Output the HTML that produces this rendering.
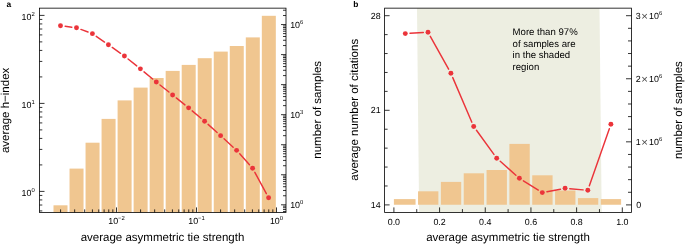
<!DOCTYPE html>
<html><head><meta charset="utf-8"><title>figure</title>
<style>html,body{margin:0;padding:0;background:#fff;}body{width:685px;height:245px;overflow:hidden;font-family:"Liberation Sans",sans-serif;}svg{display:block;will-change:transform;opacity:0.999}text{text-rendering:geometricPrecision}</style>
</head><body>
<svg width="685" height="245" viewBox="0 0 685 245">
<rect width="685" height="245" fill="#fff"/>
<rect x="53.50" y="205.30" width="14.0" height="7.10" fill="#f0c690"/>
<rect x="69.53" y="168.60" width="14.0" height="43.80" fill="#f0c690"/>
<rect x="85.55" y="142.70" width="14.0" height="69.70" fill="#f0c690"/>
<rect x="101.57" y="118.90" width="14.0" height="93.50" fill="#f0c690"/>
<rect x="117.60" y="100.40" width="14.0" height="112.00" fill="#f0c690"/>
<rect x="133.62" y="87.60" width="14.0" height="124.80" fill="#f0c690"/>
<rect x="149.65" y="78.00" width="14.0" height="134.40" fill="#f0c690"/>
<rect x="165.67" y="70.90" width="14.0" height="141.50" fill="#f0c690"/>
<rect x="181.70" y="64.90" width="14.0" height="147.50" fill="#f0c690"/>
<rect x="197.72" y="58.20" width="14.0" height="154.20" fill="#f0c690"/>
<rect x="213.75" y="51.60" width="14.0" height="160.80" fill="#f0c690"/>
<rect x="229.77" y="46.00" width="14.0" height="166.40" fill="#f0c690"/>
<rect x="245.80" y="37.40" width="14.0" height="175.00" fill="#f0c690"/>
<rect x="261.82" y="15.80" width="14.0" height="196.60" fill="#f0c690"/>
<path d="M65.16 26.33L71.84 27.17M80.91 29.39L87.99 32.01M96.26 36.33L104.54 42.07M112.24 47.46L120.56 53.34M128.07 58.99L136.73 65.91M144.02 71.85L152.68 79.05M159.99 84.97L168.91 92.03M176.26 97.90L184.94 104.90M192.20 110.87L201.00 118.23M208.09 124.39L217.11 132.51M224.06 138.83L233.14 147.17M239.73 153.85L249.47 164.75M254.84 172.38L266.36 193.62" fill="none" stroke="#eb343a" stroke-width="1.45" stroke-linecap="round"/>
<circle cx="60.50" cy="25.75" r="2.45" fill="#eb343a"/>
<circle cx="76.50" cy="27.75" r="2.45" fill="#eb343a"/>
<circle cx="92.40" cy="33.65" r="2.45" fill="#eb343a"/>
<circle cx="108.40" cy="44.75" r="2.45" fill="#eb343a"/>
<circle cx="124.40" cy="56.05" r="2.45" fill="#eb343a"/>
<circle cx="140.40" cy="68.85" r="2.45" fill="#eb343a"/>
<circle cx="156.30" cy="82.05" r="2.45" fill="#eb343a"/>
<circle cx="172.60" cy="94.95" r="2.45" fill="#eb343a"/>
<circle cx="188.60" cy="107.85" r="2.45" fill="#eb343a"/>
<circle cx="204.60" cy="121.25" r="2.45" fill="#eb343a"/>
<circle cx="220.60" cy="135.65" r="2.45" fill="#eb343a"/>
<circle cx="236.60" cy="150.35" r="2.45" fill="#eb343a"/>
<circle cx="252.60" cy="168.25" r="2.45" fill="#eb343a"/>
<circle cx="268.60" cy="197.75" r="2.45" fill="#eb343a"/>
<line x1="39.50" y1="210.92" x2="42.30" y2="210.92" stroke="#000" stroke-width="0.8"/>
<line x1="39.50" y1="205.03" x2="42.30" y2="205.03" stroke="#000" stroke-width="0.8"/>
<line x1="39.50" y1="199.93" x2="42.30" y2="199.93" stroke="#000" stroke-width="0.8"/>
<line x1="39.50" y1="195.43" x2="42.30" y2="195.43" stroke="#000" stroke-width="0.8"/>
<line x1="39.50" y1="191.40" x2="44.50" y2="191.40" stroke="#000" stroke-width="0.8"/>
<line x1="39.50" y1="164.91" x2="42.30" y2="164.91" stroke="#000" stroke-width="0.8"/>
<line x1="39.50" y1="149.41" x2="42.30" y2="149.41" stroke="#000" stroke-width="0.8"/>
<line x1="39.50" y1="138.42" x2="42.30" y2="138.42" stroke="#000" stroke-width="0.8"/>
<line x1="39.50" y1="129.89" x2="42.30" y2="129.89" stroke="#000" stroke-width="0.8"/>
<line x1="39.50" y1="122.92" x2="42.30" y2="122.92" stroke="#000" stroke-width="0.8"/>
<line x1="39.50" y1="117.03" x2="42.30" y2="117.03" stroke="#000" stroke-width="0.8"/>
<line x1="39.50" y1="111.93" x2="42.30" y2="111.93" stroke="#000" stroke-width="0.8"/>
<line x1="39.50" y1="107.43" x2="42.30" y2="107.43" stroke="#000" stroke-width="0.8"/>
<line x1="39.50" y1="103.40" x2="44.50" y2="103.40" stroke="#000" stroke-width="0.8"/>
<line x1="39.50" y1="76.91" x2="42.30" y2="76.91" stroke="#000" stroke-width="0.8"/>
<line x1="39.50" y1="61.41" x2="42.30" y2="61.41" stroke="#000" stroke-width="0.8"/>
<line x1="39.50" y1="50.42" x2="42.30" y2="50.42" stroke="#000" stroke-width="0.8"/>
<line x1="39.50" y1="41.89" x2="42.30" y2="41.89" stroke="#000" stroke-width="0.8"/>
<line x1="39.50" y1="34.92" x2="42.30" y2="34.92" stroke="#000" stroke-width="0.8"/>
<line x1="39.50" y1="29.03" x2="42.30" y2="29.03" stroke="#000" stroke-width="0.8"/>
<line x1="39.50" y1="23.93" x2="42.30" y2="23.93" stroke="#000" stroke-width="0.8"/>
<line x1="39.50" y1="19.43" x2="42.30" y2="19.43" stroke="#000" stroke-width="0.8"/>
<line x1="39.50" y1="15.40" x2="44.50" y2="15.40" stroke="#000" stroke-width="0.8"/>
<line x1="60.58" y1="212.40" x2="60.58" y2="209.40" stroke="#000" stroke-width="0.8"/>
<line x1="74.67" y1="212.40" x2="74.67" y2="209.40" stroke="#000" stroke-width="0.8"/>
<line x1="84.66" y1="212.40" x2="84.66" y2="209.40" stroke="#000" stroke-width="0.8"/>
<line x1="92.42" y1="212.40" x2="92.42" y2="209.40" stroke="#000" stroke-width="0.8"/>
<line x1="98.75" y1="212.40" x2="98.75" y2="209.40" stroke="#000" stroke-width="0.8"/>
<line x1="104.11" y1="212.40" x2="104.11" y2="209.40" stroke="#000" stroke-width="0.8"/>
<line x1="108.75" y1="212.40" x2="108.75" y2="209.40" stroke="#000" stroke-width="0.8"/>
<line x1="112.84" y1="212.40" x2="112.84" y2="209.40" stroke="#000" stroke-width="0.8"/>
<line x1="116.50" y1="212.40" x2="116.50" y2="207.40" stroke="#000" stroke-width="0.8"/>
<line x1="140.58" y1="212.40" x2="140.58" y2="209.40" stroke="#000" stroke-width="0.8"/>
<line x1="154.67" y1="212.40" x2="154.67" y2="209.40" stroke="#000" stroke-width="0.8"/>
<line x1="164.66" y1="212.40" x2="164.66" y2="209.40" stroke="#000" stroke-width="0.8"/>
<line x1="172.42" y1="212.40" x2="172.42" y2="209.40" stroke="#000" stroke-width="0.8"/>
<line x1="178.75" y1="212.40" x2="178.75" y2="209.40" stroke="#000" stroke-width="0.8"/>
<line x1="184.11" y1="212.40" x2="184.11" y2="209.40" stroke="#000" stroke-width="0.8"/>
<line x1="188.75" y1="212.40" x2="188.75" y2="209.40" stroke="#000" stroke-width="0.8"/>
<line x1="192.84" y1="212.40" x2="192.84" y2="209.40" stroke="#000" stroke-width="0.8"/>
<line x1="196.50" y1="212.40" x2="196.50" y2="207.40" stroke="#000" stroke-width="0.8"/>
<line x1="220.58" y1="212.40" x2="220.58" y2="209.40" stroke="#000" stroke-width="0.8"/>
<line x1="234.67" y1="212.40" x2="234.67" y2="209.40" stroke="#000" stroke-width="0.8"/>
<line x1="244.66" y1="212.40" x2="244.66" y2="209.40" stroke="#000" stroke-width="0.8"/>
<line x1="252.42" y1="212.40" x2="252.42" y2="209.40" stroke="#000" stroke-width="0.8"/>
<line x1="258.75" y1="212.40" x2="258.75" y2="209.40" stroke="#000" stroke-width="0.8"/>
<line x1="264.11" y1="212.40" x2="264.11" y2="209.40" stroke="#000" stroke-width="0.8"/>
<line x1="268.75" y1="212.40" x2="268.75" y2="209.40" stroke="#000" stroke-width="0.8"/>
<line x1="272.84" y1="212.40" x2="272.84" y2="209.40" stroke="#000" stroke-width="0.8"/>
<line x1="276.50" y1="212.40" x2="276.50" y2="207.40" stroke="#000" stroke-width="0.8"/>
<line x1="286.00" y1="211.46" x2="283.00" y2="211.46" stroke="#000" stroke-width="0.8"/>
<line x1="286.00" y1="209.45" x2="283.00" y2="209.45" stroke="#000" stroke-width="0.8"/>
<line x1="286.00" y1="207.71" x2="283.00" y2="207.71" stroke="#000" stroke-width="0.8"/>
<line x1="286.00" y1="206.17" x2="283.00" y2="206.17" stroke="#000" stroke-width="0.8"/>
<line x1="286.00" y1="204.80" x2="281.00" y2="204.80" stroke="#000" stroke-width="0.8"/>
<line x1="286.00" y1="195.76" x2="283.00" y2="195.76" stroke="#000" stroke-width="0.8"/>
<line x1="286.00" y1="190.47" x2="283.00" y2="190.47" stroke="#000" stroke-width="0.8"/>
<line x1="286.00" y1="186.71" x2="283.00" y2="186.71" stroke="#000" stroke-width="0.8"/>
<line x1="286.00" y1="183.80" x2="283.00" y2="183.80" stroke="#000" stroke-width="0.8"/>
<line x1="286.00" y1="181.42" x2="283.00" y2="181.42" stroke="#000" stroke-width="0.8"/>
<line x1="286.00" y1="179.41" x2="283.00" y2="179.41" stroke="#000" stroke-width="0.8"/>
<line x1="286.00" y1="177.67" x2="283.00" y2="177.67" stroke="#000" stroke-width="0.8"/>
<line x1="286.00" y1="176.13" x2="283.00" y2="176.13" stroke="#000" stroke-width="0.8"/>
<line x1="286.00" y1="174.76" x2="281.00" y2="174.76" stroke="#000" stroke-width="0.8"/>
<line x1="286.00" y1="165.72" x2="283.00" y2="165.72" stroke="#000" stroke-width="0.8"/>
<line x1="286.00" y1="160.43" x2="283.00" y2="160.43" stroke="#000" stroke-width="0.8"/>
<line x1="286.00" y1="156.67" x2="283.00" y2="156.67" stroke="#000" stroke-width="0.8"/>
<line x1="286.00" y1="153.76" x2="283.00" y2="153.76" stroke="#000" stroke-width="0.8"/>
<line x1="286.00" y1="151.38" x2="283.00" y2="151.38" stroke="#000" stroke-width="0.8"/>
<line x1="286.00" y1="149.37" x2="283.00" y2="149.37" stroke="#000" stroke-width="0.8"/>
<line x1="286.00" y1="147.63" x2="283.00" y2="147.63" stroke="#000" stroke-width="0.8"/>
<line x1="286.00" y1="146.09" x2="283.00" y2="146.09" stroke="#000" stroke-width="0.8"/>
<line x1="286.00" y1="144.72" x2="281.00" y2="144.72" stroke="#000" stroke-width="0.8"/>
<line x1="286.00" y1="135.68" x2="283.00" y2="135.68" stroke="#000" stroke-width="0.8"/>
<line x1="286.00" y1="130.39" x2="283.00" y2="130.39" stroke="#000" stroke-width="0.8"/>
<line x1="286.00" y1="126.63" x2="283.00" y2="126.63" stroke="#000" stroke-width="0.8"/>
<line x1="286.00" y1="123.72" x2="283.00" y2="123.72" stroke="#000" stroke-width="0.8"/>
<line x1="286.00" y1="121.34" x2="283.00" y2="121.34" stroke="#000" stroke-width="0.8"/>
<line x1="286.00" y1="119.33" x2="283.00" y2="119.33" stroke="#000" stroke-width="0.8"/>
<line x1="286.00" y1="117.59" x2="283.00" y2="117.59" stroke="#000" stroke-width="0.8"/>
<line x1="286.00" y1="116.05" x2="283.00" y2="116.05" stroke="#000" stroke-width="0.8"/>
<line x1="286.00" y1="114.68" x2="281.00" y2="114.68" stroke="#000" stroke-width="0.8"/>
<line x1="286.00" y1="105.64" x2="283.00" y2="105.64" stroke="#000" stroke-width="0.8"/>
<line x1="286.00" y1="100.35" x2="283.00" y2="100.35" stroke="#000" stroke-width="0.8"/>
<line x1="286.00" y1="96.59" x2="283.00" y2="96.59" stroke="#000" stroke-width="0.8"/>
<line x1="286.00" y1="93.68" x2="283.00" y2="93.68" stroke="#000" stroke-width="0.8"/>
<line x1="286.00" y1="91.30" x2="283.00" y2="91.30" stroke="#000" stroke-width="0.8"/>
<line x1="286.00" y1="89.29" x2="283.00" y2="89.29" stroke="#000" stroke-width="0.8"/>
<line x1="286.00" y1="87.55" x2="283.00" y2="87.55" stroke="#000" stroke-width="0.8"/>
<line x1="286.00" y1="86.01" x2="283.00" y2="86.01" stroke="#000" stroke-width="0.8"/>
<line x1="286.00" y1="84.64" x2="281.00" y2="84.64" stroke="#000" stroke-width="0.8"/>
<line x1="286.00" y1="75.60" x2="283.00" y2="75.60" stroke="#000" stroke-width="0.8"/>
<line x1="286.00" y1="70.31" x2="283.00" y2="70.31" stroke="#000" stroke-width="0.8"/>
<line x1="286.00" y1="66.55" x2="283.00" y2="66.55" stroke="#000" stroke-width="0.8"/>
<line x1="286.00" y1="63.64" x2="283.00" y2="63.64" stroke="#000" stroke-width="0.8"/>
<line x1="286.00" y1="61.26" x2="283.00" y2="61.26" stroke="#000" stroke-width="0.8"/>
<line x1="286.00" y1="59.25" x2="283.00" y2="59.25" stroke="#000" stroke-width="0.8"/>
<line x1="286.00" y1="57.51" x2="283.00" y2="57.51" stroke="#000" stroke-width="0.8"/>
<line x1="286.00" y1="55.97" x2="283.00" y2="55.97" stroke="#000" stroke-width="0.8"/>
<line x1="286.00" y1="54.60" x2="281.00" y2="54.60" stroke="#000" stroke-width="0.8"/>
<line x1="286.00" y1="45.56" x2="283.00" y2="45.56" stroke="#000" stroke-width="0.8"/>
<line x1="286.00" y1="40.27" x2="283.00" y2="40.27" stroke="#000" stroke-width="0.8"/>
<line x1="286.00" y1="36.51" x2="283.00" y2="36.51" stroke="#000" stroke-width="0.8"/>
<line x1="286.00" y1="33.60" x2="283.00" y2="33.60" stroke="#000" stroke-width="0.8"/>
<line x1="286.00" y1="31.22" x2="283.00" y2="31.22" stroke="#000" stroke-width="0.8"/>
<line x1="286.00" y1="29.21" x2="283.00" y2="29.21" stroke="#000" stroke-width="0.8"/>
<line x1="286.00" y1="27.47" x2="283.00" y2="27.47" stroke="#000" stroke-width="0.8"/>
<line x1="286.00" y1="25.93" x2="283.00" y2="25.93" stroke="#000" stroke-width="0.8"/>
<line x1="286.00" y1="24.56" x2="281.00" y2="24.56" stroke="#000" stroke-width="0.8"/>
<line x1="286.00" y1="15.52" x2="283.00" y2="15.52" stroke="#000" stroke-width="0.8"/>
<line x1="286.00" y1="10.23" x2="283.00" y2="10.23" stroke="#000" stroke-width="0.8"/>
<rect x="39.5" y="8.15" width="246.5" height="204.25" fill="none" stroke="#000" stroke-width="0.8"/>
<text x="34.70" y="196" font-size="8.9" text-anchor="end" font-family="Liberation Sans, sans-serif" fill="#000">10<tspan font-size="5.9" dy="-4">0</tspan></text>
<text x="34.70" y="108" font-size="8.9" text-anchor="end" font-family="Liberation Sans, sans-serif" fill="#000">10<tspan font-size="5.9" dy="-4">1</tspan></text>
<text x="34.70" y="20" font-size="8.9" text-anchor="end" font-family="Liberation Sans, sans-serif" fill="#000">10<tspan font-size="5.9" dy="-4">2</tspan></text>
<text x="290.20" y="208" font-size="8.9" text-anchor="start" font-family="Liberation Sans, sans-serif" fill="#000">10<tspan font-size="5.9" dy="-4">0</tspan></text>
<text x="290.20" y="118" font-size="8.9" text-anchor="start" font-family="Liberation Sans, sans-serif" fill="#000">10<tspan font-size="5.9" dy="-4">3</tspan></text>
<text x="290.20" y="28" font-size="8.9" text-anchor="start" font-family="Liberation Sans, sans-serif" fill="#000">10<tspan font-size="5.9" dy="-4">6</tspan></text>
<text x="116.50" y="224" font-size="8.9" text-anchor="middle" font-family="Liberation Sans, sans-serif" fill="#000">10<tspan font-size="5.9" dy="-4">−2</tspan></text>
<text x="196.50" y="224" font-size="8.9" text-anchor="middle" font-family="Liberation Sans, sans-serif" fill="#000">10<tspan font-size="5.9" dy="-4">−1</tspan></text>
<text x="276.50" y="224" font-size="8.9" text-anchor="middle" font-family="Liberation Sans, sans-serif" fill="#000">10<tspan font-size="5.9" dy="-4">0</tspan></text>
<text x="162.5" y="241" font-size="11.5" text-anchor="middle" font-family="Liberation Sans, sans-serif" fill="#000">average asymmetric tie strength</text>
<text transform="translate(9.3,110.4) rotate(-90)" font-size="11.5" text-anchor="middle" font-family="Liberation Sans, sans-serif" fill="#000">average h−index</text>
<text transform="translate(320.5,109.8) rotate(-90)" font-size="11.5" text-anchor="middle" font-family="Liberation Sans, sans-serif" fill="#000">number of samples</text>
<text x="6.6" y="6.6" font-size="8.4" font-weight="bold" font-family="Liberation Sans, sans-serif" fill="#000">a</text>
<polygon points="417.0,8.15 599.5,8.15 601.7,212.4 419.1,212.4" fill="#edeee1"/>
<rect x="393.90" y="199.10" width="21.65" height="5.65" fill="#f0c690"/>
<rect x="418.04" y="191.30" width="20.35" height="13.45" fill="#f0c690"/>
<rect x="440.88" y="181.90" width="20.35" height="22.85" fill="#f0c690"/>
<rect x="463.72" y="173.30" width="20.35" height="31.45" fill="#f0c690"/>
<rect x="486.56" y="170.00" width="20.35" height="34.75" fill="#f0c690"/>
<rect x="509.40" y="143.90" width="20.35" height="60.85" fill="#f0c690"/>
<rect x="532.24" y="175.30" width="20.35" height="29.45" fill="#f0c690"/>
<rect x="555.08" y="190.50" width="20.35" height="14.25" fill="#f0c690"/>
<rect x="577.92" y="198.10" width="20.35" height="6.65" fill="#f0c690"/>
<rect x="600.76" y="199.10" width="20.35" height="5.65" fill="#f0c690"/>
<path d="M409.99 33.31L423.31 32.49M430.29 36.31L448.61 69.19M452.75 77.62L471.85 122.18M476.46 130.30L493.94 154.40M500.22 161.32L515.88 175.18M523.39 180.79L538.31 190.11M546.92 191.73L560.48 189.17M569.78 188.71L583.12 189.89M589.35 185.86L609.35 128.64" fill="none" stroke="#eb343a" stroke-width="1.45" stroke-linecap="round"/>
<circle cx="405.30" cy="33.60" r="2.45" fill="#eb343a"/>
<circle cx="428.00" cy="32.20" r="2.45" fill="#eb343a"/>
<circle cx="450.90" cy="73.30" r="2.45" fill="#eb343a"/>
<circle cx="473.70" cy="126.50" r="2.45" fill="#eb343a"/>
<circle cx="496.70" cy="158.20" r="2.45" fill="#eb343a"/>
<circle cx="519.40" cy="178.30" r="2.45" fill="#eb343a"/>
<circle cx="542.30" cy="192.60" r="2.45" fill="#eb343a"/>
<circle cx="565.10" cy="188.30" r="2.45" fill="#eb343a"/>
<circle cx="587.80" cy="190.30" r="2.45" fill="#eb343a"/>
<circle cx="610.90" cy="124.20" r="2.45" fill="#eb343a"/>
<line x1="384.60" y1="204.90" x2="389.60" y2="204.90" stroke="#000" stroke-width="0.8"/>
<line x1="384.60" y1="185.98" x2="387.60" y2="185.98" stroke="#000" stroke-width="0.8"/>
<line x1="384.60" y1="167.06" x2="387.60" y2="167.06" stroke="#000" stroke-width="0.8"/>
<line x1="384.60" y1="148.14" x2="387.60" y2="148.14" stroke="#000" stroke-width="0.8"/>
<line x1="384.60" y1="129.22" x2="387.60" y2="129.22" stroke="#000" stroke-width="0.8"/>
<line x1="384.60" y1="110.30" x2="389.60" y2="110.30" stroke="#000" stroke-width="0.8"/>
<line x1="384.60" y1="91.38" x2="387.60" y2="91.38" stroke="#000" stroke-width="0.8"/>
<line x1="384.60" y1="72.46" x2="387.60" y2="72.46" stroke="#000" stroke-width="0.8"/>
<line x1="384.60" y1="53.54" x2="387.60" y2="53.54" stroke="#000" stroke-width="0.8"/>
<line x1="384.60" y1="34.62" x2="387.60" y2="34.62" stroke="#000" stroke-width="0.8"/>
<line x1="384.60" y1="15.70" x2="389.60" y2="15.70" stroke="#000" stroke-width="0.8"/>
<line x1="631.50" y1="204.90" x2="626.00" y2="204.90" stroke="#000" stroke-width="0.8"/>
<line x1="631.50" y1="192.29" x2="628.00" y2="192.29" stroke="#000" stroke-width="0.8"/>
<line x1="631.50" y1="179.67" x2="628.00" y2="179.67" stroke="#000" stroke-width="0.8"/>
<line x1="631.50" y1="167.06" x2="628.00" y2="167.06" stroke="#000" stroke-width="0.8"/>
<line x1="631.50" y1="154.44" x2="628.00" y2="154.44" stroke="#000" stroke-width="0.8"/>
<line x1="631.50" y1="141.83" x2="626.00" y2="141.83" stroke="#000" stroke-width="0.8"/>
<line x1="631.50" y1="129.22" x2="628.00" y2="129.22" stroke="#000" stroke-width="0.8"/>
<line x1="631.50" y1="116.60" x2="628.00" y2="116.60" stroke="#000" stroke-width="0.8"/>
<line x1="631.50" y1="103.99" x2="628.00" y2="103.99" stroke="#000" stroke-width="0.8"/>
<line x1="631.50" y1="91.37" x2="628.00" y2="91.37" stroke="#000" stroke-width="0.8"/>
<line x1="631.50" y1="78.76" x2="626.00" y2="78.76" stroke="#000" stroke-width="0.8"/>
<line x1="631.50" y1="66.15" x2="628.00" y2="66.15" stroke="#000" stroke-width="0.8"/>
<line x1="631.50" y1="53.53" x2="628.00" y2="53.53" stroke="#000" stroke-width="0.8"/>
<line x1="631.50" y1="40.92" x2="628.00" y2="40.92" stroke="#000" stroke-width="0.8"/>
<line x1="631.50" y1="28.30" x2="628.00" y2="28.30" stroke="#000" stroke-width="0.8"/>
<line x1="631.50" y1="15.69" x2="626.00" y2="15.69" stroke="#000" stroke-width="0.8"/>
<line x1="393.90" y1="212.40" x2="393.90" y2="207.40" stroke="#000" stroke-width="0.8"/>
<line x1="416.74" y1="212.40" x2="416.74" y2="209.10" stroke="#000" stroke-width="0.8"/>
<line x1="439.58" y1="212.40" x2="439.58" y2="207.40" stroke="#000" stroke-width="0.8"/>
<line x1="462.42" y1="212.40" x2="462.42" y2="209.10" stroke="#000" stroke-width="0.8"/>
<line x1="485.26" y1="212.40" x2="485.26" y2="207.40" stroke="#000" stroke-width="0.8"/>
<line x1="508.10" y1="212.40" x2="508.10" y2="209.10" stroke="#000" stroke-width="0.8"/>
<line x1="530.94" y1="212.40" x2="530.94" y2="207.40" stroke="#000" stroke-width="0.8"/>
<line x1="553.78" y1="212.40" x2="553.78" y2="209.10" stroke="#000" stroke-width="0.8"/>
<line x1="576.62" y1="212.40" x2="576.62" y2="207.40" stroke="#000" stroke-width="0.8"/>
<line x1="599.46" y1="212.40" x2="599.46" y2="209.10" stroke="#000" stroke-width="0.8"/>
<line x1="622.30" y1="212.40" x2="622.30" y2="207.40" stroke="#000" stroke-width="0.8"/>
<rect x="384.6" y="8.15" width="246.89999999999998" height="204.25" fill="none" stroke="#000" stroke-width="0.8"/>
<text x="380.6" y="207.90" font-size="8.9" text-anchor="end" font-family="Liberation Sans, sans-serif" fill="#000">14</text>
<text x="380.6" y="113.30" font-size="8.9" text-anchor="end" font-family="Liberation Sans, sans-serif" fill="#000">21</text>
<text x="380.6" y="18.70" font-size="8.9" text-anchor="end" font-family="Liberation Sans, sans-serif" fill="#000">28</text>
<text x="393.90" y="224.7" font-size="8.9" text-anchor="middle" font-family="Liberation Sans, sans-serif" fill="#000">0.0</text>
<text x="439.58" y="224.7" font-size="8.9" text-anchor="middle" font-family="Liberation Sans, sans-serif" fill="#000">0.2</text>
<text x="485.26" y="224.7" font-size="8.9" text-anchor="middle" font-family="Liberation Sans, sans-serif" fill="#000">0.4</text>
<text x="530.94" y="224.7" font-size="8.9" text-anchor="middle" font-family="Liberation Sans, sans-serif" fill="#000">0.6</text>
<text x="576.62" y="224.7" font-size="8.9" text-anchor="middle" font-family="Liberation Sans, sans-serif" fill="#000">0.8</text>
<text x="622.30" y="224.7" font-size="8.9" text-anchor="middle" font-family="Liberation Sans, sans-serif" fill="#000">1.0</text>
<text x="636.3" y="207.90" font-size="8.9" font-family="Liberation Sans, sans-serif" fill="#000">0</text>
<text y="145" font-size="8.9" font-family="Liberation Sans, sans-serif" fill="#000"><tspan x="635.7">1</tspan><tspan x="641.2" dy="1.3" font-size="11.4" fill="#444">×</tspan><tspan x="649.0" dy="-1.3">10</tspan><tspan font-size="5.9" dy="-4">6</tspan></text>
<text y="82" font-size="8.9" font-family="Liberation Sans, sans-serif" fill="#000"><tspan x="635.7">2</tspan><tspan x="641.2" dy="1.3" font-size="11.4" fill="#444">×</tspan><tspan x="649.0" dy="-1.3">10</tspan><tspan font-size="5.9" dy="-4">6</tspan></text>
<text y="19" font-size="8.9" font-family="Liberation Sans, sans-serif" fill="#000"><tspan x="635.7">3</tspan><tspan x="641.2" dy="1.3" font-size="11.4" fill="#444">×</tspan><tspan x="649.0" dy="-1.3">10</tspan><tspan font-size="5.9" dy="-4">6</tspan></text>
<text x="508" y="240.8" font-size="11.5" text-anchor="middle" font-family="Liberation Sans, sans-serif" fill="#000">average asymmetric tie strength</text>
<text transform="translate(358,109.8) rotate(-90)" font-size="11.5" text-anchor="middle" font-family="Liberation Sans, sans-serif" fill="#000">average number of citations</text>
<text transform="translate(682,110.1) rotate(-90)" font-size="11.5" text-anchor="middle" font-family="Liberation Sans, sans-serif" fill="#000">number of samples</text>
<text x="353.3" y="6.6" font-size="8.4" font-weight="bold" font-family="Liberation Sans, sans-serif" fill="#000">b</text>
<text x="512.6" y="34.70" font-size="9.6" font-family="Liberation Sans, sans-serif" fill="#000">More than 97%</text>
<text x="512.6" y="46.50" font-size="9.6" font-family="Liberation Sans, sans-serif" fill="#000">of samples are</text>
<text x="512.6" y="58.30" font-size="9.6" font-family="Liberation Sans, sans-serif" fill="#000">in the shaded</text>
<text x="512.6" y="70.10" font-size="9.6" font-family="Liberation Sans, sans-serif" fill="#000">region</text>
</svg>
</body></html>
